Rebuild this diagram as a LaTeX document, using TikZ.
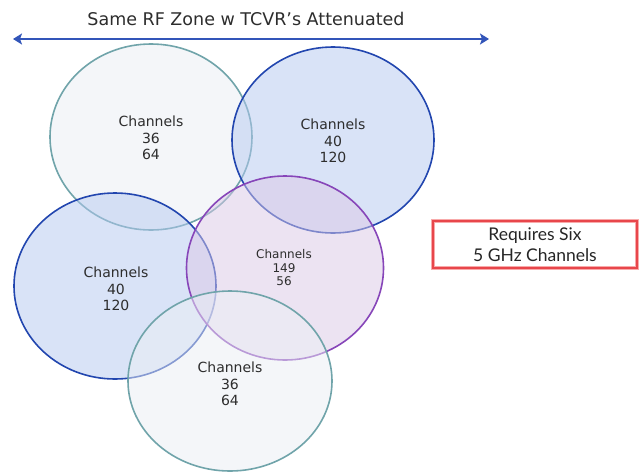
\documentclass[tikz,border=0pt]{standalone}
\usepackage{fontspec}
\setmainfont{DejaVu Sans}
\newfontfamily\latofont{Lato}
\usetikzlibrary{arrows.meta}
\definecolor{tealline}{RGB}{112,164,170}
\definecolor{blueline}{RGB}{34,70,175}
\definecolor{purpline}{RGB}{135,70,185}
\definecolor{tealfill}{RGB}{235,239,245}
\definecolor{bluefill}{RGB}{181,201,241}
\definecolor{purpfill}{RGB}{219,201,231}
\definecolor{txtgray}{RGB}{45,45,45}
\definecolor{arrowblue}{RGB}{50,85,185}
\definecolor{boxred}{RGB}{232,70,75}
\definecolor{boxglow}{RGB}{248,170,170}
\tikzset{
  zone/.style={ellipse, minimum width=202pt, minimum height=186pt, line width=1.6pt, fill opacity=0.5, text opacity=1, draw opacity=1},
  tealzone/.style={zone, draw=tealline, fill=tealfill},
  bluezone/.style={zone, draw=blueline, fill=bluefill},
  purpzone/.style={zone, draw=purpline, fill=purpfill},
  chlabel/.style={align=center, text=txtgray, font=\fontsize{14}{16.5}\selectfont},
  chsmall/.style={align=center, text=txtgray, font=\fontsize{12}{13.5}\selectfont},
}
\usetikzlibrary{shapes.geometric}
\begin{document}
\begin{tikzpicture}[x=1pt,y=-1pt]
\useasboundingbox (0,0) rectangle (640,472);
\fill[white] (0,0) rectangle (640,472);
% title
\node[text=txtgray, font=\fontsize{17.5}{20}\selectfont] (title) at (246,19) {Same RF Zone w TCVR’s Attenuated};
\coordinate (aL) at (13,39);
\coordinate (aR) at (489,39);
\draw[arrowblue, line width=2.4pt, {Stealth[length=9pt,width=11pt,inset=2pt]}-{Stealth[length=9pt,width=11pt,inset=2pt]}] (aL) -- (aR);
% circles
\node[tealzone] (c1) at (151,137) {};
\node[bluezone] (c2) at (333,140) {};
\node[bluezone] (c3) at (115,286) {};
\node[purpzone, minimum width=197pt, minimum height=184pt] (c4) at (285,268) {};
\node[tealzone, minimum width=204pt, minimum height=180pt] (c5) at (230,381) {};
% labels
\node[chlabel] (l1) at (151,138) {Channels\\36\\64};
\node[chlabel] (l2) at (333,141) {Channels\\40\\120};
\node[chlabel] (l3) at (116,289) {Channels\\40\\120};
\node[chsmall] (l4) at (284,268) {Channels\\149\\56};
\node[chlabel] (l5) at (230,384) {Channels\\36\\64};
% box
\draw[boxglow, line width=4pt] (433,221) rectangle (637,268);
\draw[boxred, line width=1.8pt] (433,221) rectangle (637,268);
\node[align=center, text=black!85, font=\latofont\fontsize{17.5}{20.5}\selectfont] (req) at (535,244.5) {Requires Six\\5 GHz Channels};
\end{tikzpicture}
\end{document}
